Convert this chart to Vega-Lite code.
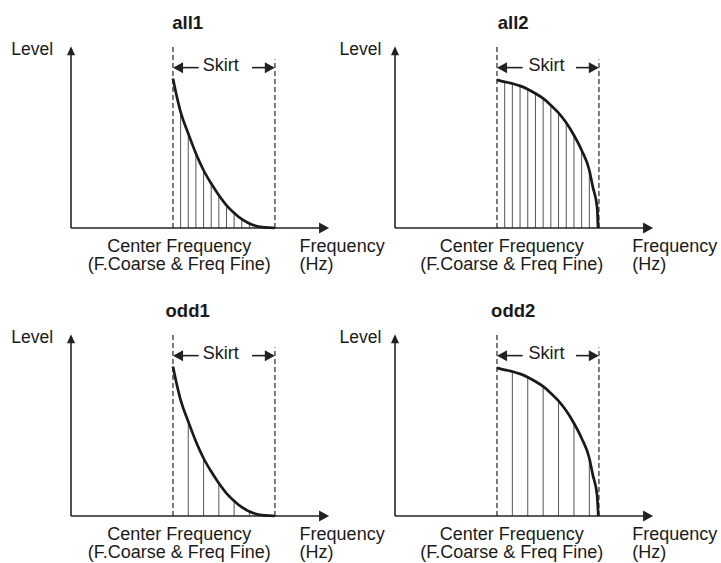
{
  "$schema": "https://vega.github.io/schema/vega-lite/v6.json",
  "padding": {"left": 11, "top": 14, "right": 0, "bottom": 0},
  "bounds": "flush",
  "columns": 2,
  "spacing": {"row": 101, "column": 64},
  "config": {"view": {"stroke": null}, "font": "Liberation Sans"},
  "data": {"values": [
    {"panel":"all1","type":"axis","f":-1,"level":0,"f2":-1,"level2":1.185},
    {"panel":"all1","type":"axis","f":-1,"level":0,"f2":1.482,"level2":0},
    {"panel":"all1","type":"dash","f":0,"level":0,"f2":0,"level2":1.225},
    {"panel":"all1","type":"dash","f":1,"level":0,"f2":1,"level2":1.127},
    {"panel":"all1","type":"skirtline","f":0.02,"level":1.072,"f2":0.252,"level2":1.072},
    {"panel":"all1","type":"skirtline","f":0.775,"level":1.072,"f2":0.98,"level2":1.072},
    {"panel":"all1","type":"uparrow","f":-1,"level":1.185},
    {"panel":"all1","type":"rightarrow","f":1.482,"level":0},
    {"panel":"all1","type":"rightarrow","f":0.95,"level":1.072},
    {"panel":"all1","type":"leftarrow","f":0.05,"level":1.072},
    {"panel":"all1","type":"title","f":0.144,"level":1.33,"label":"all1"},
    {"panel":"all1","type":"ctext","f":0.468,"level":1.05,"label":"Skirt"},
    {"panel":"all1","type":"ctext","f":0.062,"level":-0.162,"label":"Center Frequency"},
    {"panel":"all1","type":"ctext","f":0.062,"level":-0.283,"label":"(F.Coarse & Freq Fine)"},
    {"panel":"all1","type":"rtext","f":-1.176,"level":1.157,"label":"Level"},
    {"panel":"all1","type":"ltext","f":1.242,"level":-0.162,"label":"Frequency"},
    {"panel":"all1","type":"ltext","f":1.242,"level":-0.283,"label":"(Hz)"},

    {"panel":"all2","type":"axis","f":-1,"level":0,"f2":-1,"level2":1.185},
    {"panel":"all2","type":"axis","f":-1,"level":0,"f2":1.482,"level2":0},
    {"panel":"all2","type":"dash","f":0,"level":0,"f2":0,"level2":1.225},
    {"panel":"all2","type":"dash","f":1,"level":0,"f2":1,"level2":1.127},
    {"panel":"all2","type":"skirtline","f":0.02,"level":1.072,"f2":0.252,"level2":1.072},
    {"panel":"all2","type":"skirtline","f":0.775,"level":1.072,"f2":0.98,"level2":1.072},
    {"panel":"all2","type":"uparrow","f":-1,"level":1.185},
    {"panel":"all2","type":"rightarrow","f":1.482,"level":0},
    {"panel":"all2","type":"rightarrow","f":0.95,"level":1.072},
    {"panel":"all2","type":"leftarrow","f":0.05,"level":1.072},
    {"panel":"all2","type":"title","f":0.159,"level":1.33,"label":"all2"},
    {"panel":"all2","type":"ctext","f":0.487,"level":1.05,"label":"Skirt"},
    {"panel":"all2","type":"ctext","f":0.145,"level":-0.162,"label":"Center Frequency"},
    {"panel":"all2","type":"ctext","f":0.145,"level":-0.283,"label":"(F.Coarse & Freq Fine)"},
    {"panel":"all2","type":"rtext","f":-1.133,"level":1.157,"label":"Level"},
    {"panel":"all2","type":"ltext","f":1.327,"level":-0.162,"label":"Frequency"},
    {"panel":"all2","type":"ltext","f":1.327,"level":-0.283,"label":"(Hz)"},

    {"panel":"odd1","type":"axis","f":-1,"level":0,"f2":-1,"level2":1.185},
    {"panel":"odd1","type":"axis","f":-1,"level":0,"f2":1.482,"level2":0},
    {"panel":"odd1","type":"dash","f":0,"level":0,"f2":0,"level2":1.225},
    {"panel":"odd1","type":"dash","f":1,"level":0,"f2":1,"level2":1.127},
    {"panel":"odd1","type":"skirtline","f":0.02,"level":1.072,"f2":0.252,"level2":1.072},
    {"panel":"odd1","type":"skirtline","f":0.775,"level":1.072,"f2":0.98,"level2":1.072},
    {"panel":"odd1","type":"uparrow","f":-1,"level":1.185},
    {"panel":"odd1","type":"rightarrow","f":1.482,"level":0},
    {"panel":"odd1","type":"rightarrow","f":0.95,"level":1.072},
    {"panel":"odd1","type":"leftarrow","f":0.05,"level":1.072},
    {"panel":"odd1","type":"title","f":0.144,"level":1.33,"label":"odd1"},
    {"panel":"odd1","type":"ctext","f":0.468,"level":1.05,"label":"Skirt"},
    {"panel":"odd1","type":"ctext","f":0.062,"level":-0.162,"label":"Center Frequency"},
    {"panel":"odd1","type":"ctext","f":0.062,"level":-0.283,"label":"(F.Coarse & Freq Fine)"},
    {"panel":"odd1","type":"rtext","f":-1.176,"level":1.157,"label":"Level"},
    {"panel":"odd1","type":"ltext","f":1.242,"level":-0.162,"label":"Frequency"},
    {"panel":"odd1","type":"ltext","f":1.242,"level":-0.283,"label":"(Hz)"},

    {"panel":"odd2","type":"axis","f":-1,"level":0,"f2":-1,"level2":1.185},
    {"panel":"odd2","type":"axis","f":-1,"level":0,"f2":1.482,"level2":0},
    {"panel":"odd2","type":"dash","f":0,"level":0,"f2":0,"level2":1.225},
    {"panel":"odd2","type":"dash","f":1,"level":0,"f2":1,"level2":1.127},
    {"panel":"odd2","type":"skirtline","f":0.02,"level":1.072,"f2":0.252,"level2":1.072},
    {"panel":"odd2","type":"skirtline","f":0.775,"level":1.072,"f2":0.98,"level2":1.072},
    {"panel":"odd2","type":"uparrow","f":-1,"level":1.185},
    {"panel":"odd2","type":"rightarrow","f":1.482,"level":0},
    {"panel":"odd2","type":"rightarrow","f":0.95,"level":1.072},
    {"panel":"odd2","type":"leftarrow","f":0.05,"level":1.072},
    {"panel":"odd2","type":"title","f":0.159,"level":1.33,"label":"odd2"},
    {"panel":"odd2","type":"ctext","f":0.487,"level":1.05,"label":"Skirt"},
    {"panel":"odd2","type":"ctext","f":0.145,"level":-0.162,"label":"Center Frequency"},
    {"panel":"odd2","type":"ctext","f":0.145,"level":-0.283,"label":"(F.Coarse & Freq Fine)"},
    {"panel":"odd2","type":"rtext","f":-1.133,"level":1.157,"label":"Level"},
    {"panel":"odd2","type":"ltext","f":1.327,"level":-0.162,"label":"Frequency"},
    {"panel":"odd2","type":"ltext","f":1.327,"level":-0.283,"label":"(Hz)"},

    {"panel":"all1","type":"curve","f":0,"level":1.0},
    {"panel":"all1","type":"curve","f":0.0375,"level":0.88},
    {"panel":"all1","type":"curve","f":0.075,"level":0.776},
    {"panel":"all1","type":"curve","f":0.15,"level":0.632},
    {"panel":"all1","type":"curve","f":0.225,"level":0.498},
    {"panel":"all1","type":"curve","f":0.3,"level":0.386},
    {"panel":"all1","type":"curve","f":0.375,"level":0.297},
    {"panel":"all1","type":"curve","f":0.45,"level":0.219},
    {"panel":"all1","type":"curve","f":0.525,"level":0.152},
    {"panel":"all1","type":"curve","f":0.6,"level":0.101},
    {"panel":"all1","type":"curve","f":0.675,"level":0.059},
    {"panel":"all1","type":"curve","f":0.75,"level":0.03},
    {"panel":"all1","type":"curve","f":0.825,"level":0.012},
    {"panel":"all1","type":"curve","f":0.9,"level":0.004},
    {"panel":"all1","type":"curve","f":1.0,"level":0},

    {"panel":"odd1","type":"curve","f":0,"level":1.0},
    {"panel":"odd1","type":"curve","f":0.0375,"level":0.88},
    {"panel":"odd1","type":"curve","f":0.075,"level":0.776},
    {"panel":"odd1","type":"curve","f":0.15,"level":0.632},
    {"panel":"odd1","type":"curve","f":0.225,"level":0.498},
    {"panel":"odd1","type":"curve","f":0.3,"level":0.386},
    {"panel":"odd1","type":"curve","f":0.375,"level":0.297},
    {"panel":"odd1","type":"curve","f":0.45,"level":0.219},
    {"panel":"odd1","type":"curve","f":0.525,"level":0.152},
    {"panel":"odd1","type":"curve","f":0.6,"level":0.101},
    {"panel":"odd1","type":"curve","f":0.675,"level":0.059},
    {"panel":"odd1","type":"curve","f":0.75,"level":0.03},
    {"panel":"odd1","type":"curve","f":0.825,"level":0.012},
    {"panel":"odd1","type":"curve","f":0.9,"level":0.004},
    {"panel":"odd1","type":"curve","f":1.0,"level":0},

    {"panel":"all2","type":"curve","f":0,"level":0.99},
    {"panel":"all2","type":"curve","f":0.0755,"level":0.977},
    {"panel":"all2","type":"curve","f":0.151,"level":0.966},
    {"panel":"all2","type":"curve","f":0.2265,"level":0.95},
    {"panel":"all2","type":"curve","f":0.302,"level":0.928},
    {"panel":"all2","type":"curve","f":0.3775,"level":0.899},
    {"panel":"all2","type":"curve","f":0.453,"level":0.866},
    {"panel":"all2","type":"curve","f":0.5285,"level":0.821},
    {"panel":"all2","type":"curve","f":0.604,"level":0.769},
    {"panel":"all2","type":"curve","f":0.6795,"level":0.703},
    {"panel":"all2","type":"curve","f":0.755,"level":0.62},
    {"panel":"all2","type":"curve","f":0.8305,"level":0.52},
    {"panel":"all2","type":"curve","f":0.906,"level":0.386},
    {"panel":"all2","type":"curve","f":0.94,"level":0.275},
    {"panel":"all2","type":"curve","f":0.9815,"level":0.141},
    {"panel":"all2","type":"curve","f":0.994,"level":0},

    {"panel":"odd2","type":"curve","f":0,"level":0.99},
    {"panel":"odd2","type":"curve","f":0.0755,"level":0.977},
    {"panel":"odd2","type":"curve","f":0.151,"level":0.966},
    {"panel":"odd2","type":"curve","f":0.2265,"level":0.95},
    {"panel":"odd2","type":"curve","f":0.302,"level":0.928},
    {"panel":"odd2","type":"curve","f":0.3775,"level":0.899},
    {"panel":"odd2","type":"curve","f":0.453,"level":0.866},
    {"panel":"odd2","type":"curve","f":0.5285,"level":0.821},
    {"panel":"odd2","type":"curve","f":0.604,"level":0.769},
    {"panel":"odd2","type":"curve","f":0.6795,"level":0.703},
    {"panel":"odd2","type":"curve","f":0.755,"level":0.62},
    {"panel":"odd2","type":"curve","f":0.8305,"level":0.52},
    {"panel":"odd2","type":"curve","f":0.906,"level":0.386},
    {"panel":"odd2","type":"curve","f":0.94,"level":0.275},
    {"panel":"odd2","type":"curve","f":0.9815,"level":0.141},
    {"panel":"odd2","type":"curve","f":0.994,"level":0},

    {"panel":"all1","type":"hatch","f":0.075,"level":0.776},
    {"panel":"all1","type":"hatch","f":0.15,"level":0.632},
    {"panel":"all1","type":"hatch","f":0.225,"level":0.498},
    {"panel":"all1","type":"hatch","f":0.3,"level":0.386},
    {"panel":"all1","type":"hatch","f":0.375,"level":0.297},
    {"panel":"all1","type":"hatch","f":0.45,"level":0.219},
    {"panel":"all1","type":"hatch","f":0.525,"level":0.152},
    {"panel":"all1","type":"hatch","f":0.6,"level":0.101},
    {"panel":"all1","type":"hatch","f":0.675,"level":0.059},
    {"panel":"all1","type":"hatch","f":0.75,"level":0.03},
    {"panel":"all1","type":"hatch","f":0.825,"level":0.012},
    {"panel":"all1","type":"hatch","f":0.9,"level":0.004},

    {"panel":"odd1","type":"hatch","f":0.15,"level":0.632},
    {"panel":"odd1","type":"hatch","f":0.3,"level":0.386},
    {"panel":"odd1","type":"hatch","f":0.45,"level":0.219},
    {"panel":"odd1","type":"hatch","f":0.6,"level":0.101},
    {"panel":"odd1","type":"hatch","f":0.75,"level":0.03},
    {"panel":"odd1","type":"hatch","f":0.9,"level":0.004},

    {"panel":"all2","type":"hatch","f":0.0755,"level":0.977},
    {"panel":"all2","type":"hatch","f":0.151,"level":0.966},
    {"panel":"all2","type":"hatch","f":0.2265,"level":0.95},
    {"panel":"all2","type":"hatch","f":0.302,"level":0.928},
    {"panel":"all2","type":"hatch","f":0.3775,"level":0.899},
    {"panel":"all2","type":"hatch","f":0.453,"level":0.866},
    {"panel":"all2","type":"hatch","f":0.5285,"level":0.821},
    {"panel":"all2","type":"hatch","f":0.604,"level":0.769},
    {"panel":"all2","type":"hatch","f":0.6795,"level":0.703},
    {"panel":"all2","type":"hatch","f":0.755,"level":0.62},
    {"panel":"all2","type":"hatch","f":0.8305,"level":0.52},
    {"panel":"all2","type":"hatch","f":0.906,"level":0.386},
    {"panel":"all2","type":"hatch","f":0.9815,"level":0.141},

    {"panel":"odd2","type":"hatch","f":0.151,"level":0.966},
    {"panel":"odd2","type":"hatch","f":0.302,"level":0.928},
    {"panel":"odd2","type":"hatch","f":0.453,"level":0.866},
    {"panel":"odd2","type":"hatch","f":0.604,"level":0.769},
    {"panel":"odd2","type":"hatch","f":0.755,"level":0.62},
    {"panel":"odd2","type":"hatch","f":0.906,"level":0.386}
  ]},
  "concat": [
    {
      "transform": [{"filter": "datum.panel === 'all1'"}],
      "width": 260, "height": 187,
      "encoding": {
        "x": {"field": "f", "type": "quantitative", "scale": {"domain": [-1, 1.55], "nice": false, "zero": false}, "axis": null},
        "y": {"field": "level", "type": "quantitative", "scale": {"domain": [0, 1.25], "nice": false, "zero": false}, "axis": null}
      },
      "layer": [
        {"transform": [{"filter": "datum.type === 'hatch'"}], "mark": {"type": "rule", "color": "#555555", "strokeWidth": 1}, "encoding": {"y2": {"datum": 0}}},
        {"transform": [{"filter": "datum.type === 'dash'"}], "mark": {"type": "rule", "color": "#444444", "strokeWidth": 1.4, "strokeDash": [5, 3]}, "encoding": {"x2": {"field": "f2"}, "y2": {"field": "level2"}}},
        {"transform": [{"filter": "datum.type === 'axis' || datum.type === 'skirtline'"}], "mark": {"type": "rule", "color": "#222222", "strokeWidth": 1.6}, "encoding": {"x2": {"field": "f2"}, "y2": {"field": "level2"}}},
        {"transform": [{"filter": "datum.type === 'curve'"}], "mark": {"type": "line", "color": "#1a1a1a", "strokeWidth": 2.7, "interpolate": "monotone"}, "encoding": {"order": {"field": "f", "type": "quantitative"}}},
        {"transform": [{"filter": "datum.type === 'uparrow'"}], "mark": {"type": "point", "shape": "M0,-1L0.9,1L-0.9,1Z", "filled": true, "opacity": 1, "color": "#222222", "size": 81, "strokeWidth": 0}},
        {"transform": [{"filter": "datum.type === 'rightarrow'"}], "mark": {"type": "point", "shape": "M1,0L-1,-1.1L-1,1.1Z", "filled": true, "opacity": 1, "color": "#222222", "size": 100, "strokeWidth": 0}},
        {"transform": [{"filter": "datum.type === 'leftarrow'"}], "mark": {"type": "point", "shape": "M-1,0L1,-1.1L1,1.1Z", "filled": true, "opacity": 1, "color": "#222222", "size": 100, "strokeWidth": 0}},
        {"transform": [{"filter": "datum.type === 'title'"}], "mark": {"type": "text", "align": "center", "baseline": "alphabetic", "fontSize": 18.5, "fontWeight": "bold", "color": "#1a1a1a"}, "encoding": {"text": {"field": "label"}}},
        {"transform": [{"filter": "datum.type === 'ctext'"}], "mark": {"type": "text", "align": "center", "baseline": "alphabetic", "fontSize": 18, "color": "#1a1a1a"}, "encoding": {"text": {"field": "label"}}},
        {"transform": [{"filter": "datum.type === 'rtext'"}], "mark": {"type": "text", "align": "right", "baseline": "alphabetic", "fontSize": 17.5, "color": "#1a1a1a"}, "encoding": {"text": {"field": "label"}}},
        {"transform": [{"filter": "datum.type === 'ltext'"}], "mark": {"type": "text", "align": "left", "baseline": "alphabetic", "fontSize": 18, "color": "#1a1a1a"}, "encoding": {"text": {"field": "label"}}}
      ]
    },
    {
      "transform": [{"filter": "datum.panel === 'all2'"}],
      "width": 260, "height": 187,
      "encoding": {
        "x": {"field": "f", "type": "quantitative", "scale": {"domain": [-1, 1.55], "nice": false, "zero": false}, "axis": null},
        "y": {"field": "level", "type": "quantitative", "scale": {"domain": [0, 1.25], "nice": false, "zero": false}, "axis": null}
      },
      "layer": [
        {"transform": [{"filter": "datum.type === 'hatch'"}], "mark": {"type": "rule", "color": "#555555", "strokeWidth": 1}, "encoding": {"y2": {"datum": 0}}},
        {"transform": [{"filter": "datum.type === 'dash'"}], "mark": {"type": "rule", "color": "#444444", "strokeWidth": 1.4, "strokeDash": [5, 3]}, "encoding": {"x2": {"field": "f2"}, "y2": {"field": "level2"}}},
        {"transform": [{"filter": "datum.type === 'axis' || datum.type === 'skirtline'"}], "mark": {"type": "rule", "color": "#222222", "strokeWidth": 1.6}, "encoding": {"x2": {"field": "f2"}, "y2": {"field": "level2"}}},
        {"transform": [{"filter": "datum.type === 'curve'"}], "mark": {"type": "line", "color": "#1a1a1a", "strokeWidth": 2.7, "interpolate": "monotone"}, "encoding": {"order": {"field": "f", "type": "quantitative"}}},
        {"transform": [{"filter": "datum.type === 'uparrow'"}], "mark": {"type": "point", "shape": "M0,-1L0.9,1L-0.9,1Z", "filled": true, "opacity": 1, "color": "#222222", "size": 81, "strokeWidth": 0}},
        {"transform": [{"filter": "datum.type === 'rightarrow'"}], "mark": {"type": "point", "shape": "M1,0L-1,-1.1L-1,1.1Z", "filled": true, "opacity": 1, "color": "#222222", "size": 100, "strokeWidth": 0}},
        {"transform": [{"filter": "datum.type === 'leftarrow'"}], "mark": {"type": "point", "shape": "M-1,0L1,-1.1L1,1.1Z", "filled": true, "opacity": 1, "color": "#222222", "size": 100, "strokeWidth": 0}},
        {"transform": [{"filter": "datum.type === 'title'"}], "mark": {"type": "text", "align": "center", "baseline": "alphabetic", "fontSize": 18.5, "fontWeight": "bold", "color": "#1a1a1a"}, "encoding": {"text": {"field": "label"}}},
        {"transform": [{"filter": "datum.type === 'ctext'"}], "mark": {"type": "text", "align": "center", "baseline": "alphabetic", "fontSize": 18, "color": "#1a1a1a"}, "encoding": {"text": {"field": "label"}}},
        {"transform": [{"filter": "datum.type === 'rtext'"}], "mark": {"type": "text", "align": "right", "baseline": "alphabetic", "fontSize": 17.5, "color": "#1a1a1a"}, "encoding": {"text": {"field": "label"}}},
        {"transform": [{"filter": "datum.type === 'ltext'"}], "mark": {"type": "text", "align": "left", "baseline": "alphabetic", "fontSize": 18, "color": "#1a1a1a"}, "encoding": {"text": {"field": "label"}}}
      ]
    },
    {
      "transform": [{"filter": "datum.panel === 'odd1'"}],
      "width": 260, "height": 187,
      "encoding": {
        "x": {"field": "f", "type": "quantitative", "scale": {"domain": [-1, 1.55], "nice": false, "zero": false}, "axis": null},
        "y": {"field": "level", "type": "quantitative", "scale": {"domain": [0, 1.25], "nice": false, "zero": false}, "axis": null}
      },
      "layer": [
        {"transform": [{"filter": "datum.type === 'hatch'"}], "mark": {"type": "rule", "color": "#555555", "strokeWidth": 1}, "encoding": {"y2": {"datum": 0}}},
        {"transform": [{"filter": "datum.type === 'dash'"}], "mark": {"type": "rule", "color": "#444444", "strokeWidth": 1.4, "strokeDash": [5, 3]}, "encoding": {"x2": {"field": "f2"}, "y2": {"field": "level2"}}},
        {"transform": [{"filter": "datum.type === 'axis' || datum.type === 'skirtline'"}], "mark": {"type": "rule", "color": "#222222", "strokeWidth": 1.6}, "encoding": {"x2": {"field": "f2"}, "y2": {"field": "level2"}}},
        {"transform": [{"filter": "datum.type === 'curve'"}], "mark": {"type": "line", "color": "#1a1a1a", "strokeWidth": 2.7, "interpolate": "monotone"}, "encoding": {"order": {"field": "f", "type": "quantitative"}}},
        {"transform": [{"filter": "datum.type === 'uparrow'"}], "mark": {"type": "point", "shape": "M0,-1L0.9,1L-0.9,1Z", "filled": true, "opacity": 1, "color": "#222222", "size": 81, "strokeWidth": 0}},
        {"transform": [{"filter": "datum.type === 'rightarrow'"}], "mark": {"type": "point", "shape": "M1,0L-1,-1.1L-1,1.1Z", "filled": true, "opacity": 1, "color": "#222222", "size": 100, "strokeWidth": 0}},
        {"transform": [{"filter": "datum.type === 'leftarrow'"}], "mark": {"type": "point", "shape": "M-1,0L1,-1.1L1,1.1Z", "filled": true, "opacity": 1, "color": "#222222", "size": 100, "strokeWidth": 0}},
        {"transform": [{"filter": "datum.type === 'title'"}], "mark": {"type": "text", "align": "center", "baseline": "alphabetic", "fontSize": 18.5, "fontWeight": "bold", "color": "#1a1a1a"}, "encoding": {"text": {"field": "label"}}},
        {"transform": [{"filter": "datum.type === 'ctext'"}], "mark": {"type": "text", "align": "center", "baseline": "alphabetic", "fontSize": 18, "color": "#1a1a1a"}, "encoding": {"text": {"field": "label"}}},
        {"transform": [{"filter": "datum.type === 'rtext'"}], "mark": {"type": "text", "align": "right", "baseline": "alphabetic", "fontSize": 17.5, "color": "#1a1a1a"}, "encoding": {"text": {"field": "label"}}},
        {"transform": [{"filter": "datum.type === 'ltext'"}], "mark": {"type": "text", "align": "left", "baseline": "alphabetic", "fontSize": 18, "color": "#1a1a1a"}, "encoding": {"text": {"field": "label"}}}
      ]
    },
    {
      "transform": [{"filter": "datum.panel === 'odd2'"}],
      "width": 260, "height": 187,
      "encoding": {
        "x": {"field": "f", "type": "quantitative", "scale": {"domain": [-1, 1.55], "nice": false, "zero": false}, "axis": null},
        "y": {"field": "level", "type": "quantitative", "scale": {"domain": [0, 1.25], "nice": false, "zero": false}, "axis": null}
      },
      "layer": [
        {"transform": [{"filter": "datum.type === 'hatch'"}], "mark": {"type": "rule", "color": "#555555", "strokeWidth": 1}, "encoding": {"y2": {"datum": 0}}},
        {"transform": [{"filter": "datum.type === 'dash'"}], "mark": {"type": "rule", "color": "#444444", "strokeWidth": 1.4, "strokeDash": [5, 3]}, "encoding": {"x2": {"field": "f2"}, "y2": {"field": "level2"}}},
        {"transform": [{"filter": "datum.type === 'axis' || datum.type === 'skirtline'"}], "mark": {"type": "rule", "color": "#222222", "strokeWidth": 1.6}, "encoding": {"x2": {"field": "f2"}, "y2": {"field": "level2"}}},
        {"transform": [{"filter": "datum.type === 'curve'"}], "mark": {"type": "line", "color": "#1a1a1a", "strokeWidth": 2.7, "interpolate": "monotone"}, "encoding": {"order": {"field": "f", "type": "quantitative"}}},
        {"transform": [{"filter": "datum.type === 'uparrow'"}], "mark": {"type": "point", "shape": "M0,-1L0.9,1L-0.9,1Z", "filled": true, "opacity": 1, "color": "#222222", "size": 81, "strokeWidth": 0}},
        {"transform": [{"filter": "datum.type === 'rightarrow'"}], "mark": {"type": "point", "shape": "M1,0L-1,-1.1L-1,1.1Z", "filled": true, "opacity": 1, "color": "#222222", "size": 100, "strokeWidth": 0}},
        {"transform": [{"filter": "datum.type === 'leftarrow'"}], "mark": {"type": "point", "shape": "M-1,0L1,-1.1L1,1.1Z", "filled": true, "opacity": 1, "color": "#222222", "size": 100, "strokeWidth": 0}},
        {"transform": [{"filter": "datum.type === 'title'"}], "mark": {"type": "text", "align": "center", "baseline": "alphabetic", "fontSize": 18.5, "fontWeight": "bold", "color": "#1a1a1a"}, "encoding": {"text": {"field": "label"}}},
        {"transform": [{"filter": "datum.type === 'ctext'"}], "mark": {"type": "text", "align": "center", "baseline": "alphabetic", "fontSize": 18, "color": "#1a1a1a"}, "encoding": {"text": {"field": "label"}}},
        {"transform": [{"filter": "datum.type === 'rtext'"}], "mark": {"type": "text", "align": "right", "baseline": "alphabetic", "fontSize": 17.5, "color": "#1a1a1a"}, "encoding": {"text": {"field": "label"}}},
        {"transform": [{"filter": "datum.type === 'ltext'"}], "mark": {"type": "text", "align": "left", "baseline": "alphabetic", "fontSize": 18, "color": "#1a1a1a"}, "encoding": {"text": {"field": "label"}}}
      ]
    }
  ]
}
